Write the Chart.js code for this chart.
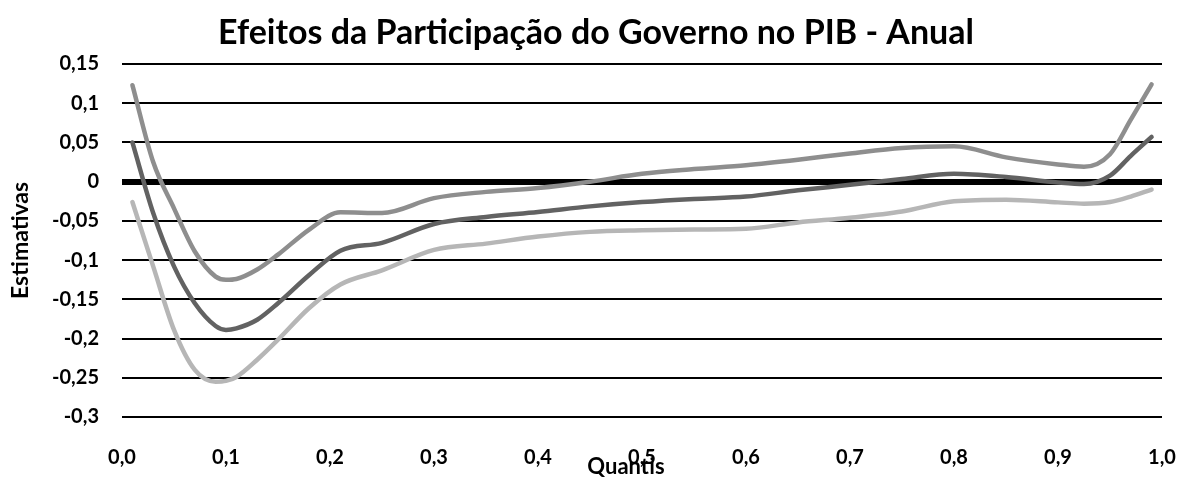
<!DOCTYPE html>
<html>
<head>
<meta charset="utf-8">
<script src="https://cdn.jsdelivr.net/npm/chart.js@4.4.1/dist/chart.umd.min.js"></script>
<style>
  html, body { margin: 0; padding: 0; background: #ffffff; }
  #wrap { width: 1179px; height: 479px; }
</style>
</head>
<body>
<div id="wrap"><canvas id="c" width="1179" height="479"></canvas></div>
<script>
// ---- data ----
const chartTitle = 'Efeitos da Participação do Governo no PIB - Anual';
const xTitle = 'Quantis';
const yTitle = 'Estimativas';

const quantis = [0.01, 0.03, 0.05, 0.07, 0.09, 0.10, 0.11, 0.13, 0.15, 0.18, 0.21, 0.25, 0.30, 0.35, 0.40, 0.45, 0.50, 0.55, 0.60, 0.65, 0.70, 0.75, 0.80, 0.85, 0.90, 0.925, 0.95, 0.97, 0.99];

const upperBound = [0.123, 0.025, -0.034, -0.089, -0.121, -0.125, -0.124, -0.112, -0.093, -0.061, -0.039, -0.040, -0.021, -0.013, -0.008, 0.000, 0.010, 0.016, 0.021, 0.028, 0.036, 0.043, 0.045, 0.031, 0.022, 0.019, 0.035, 0.079, 0.124];
const estimate   = [0.050, -0.040, -0.108, -0.155, -0.184, -0.189, -0.187, -0.176, -0.155, -0.119, -0.088, -0.078, -0.054, -0.045, -0.0387, -0.0315, -0.026, -0.022, -0.019, -0.011, -0.004, 0.0034, 0.010, 0.006, -0.001, -0.003, 0.0077, 0.033, 0.057];
const lowerBound = [-0.026, -0.108, -0.189, -0.240, -0.255, -0.254, -0.249, -0.227, -0.2015, -0.161, -0.131, -0.113, -0.087, -0.079, -0.070, -0.064, -0.062, -0.061, -0.060, -0.052, -0.046, -0.038, -0.025, -0.023, -0.0264, -0.028, -0.026, -0.019, -0.010];

const xTickValues = [0, 0.1, 0.2, 0.3, 0.4, 0.5, 0.6, 0.7, 0.8, 0.9, 1.0];
const yTickValues = [0.15, 0.1, 0.05, 0, -0.05, -0.1, -0.15, -0.2, -0.25, -0.3];

const FONT = 'Lato';

function toPoints(xs, ys) { return xs.map((x, i) => ({ x: x, y: ys[i] })); }
function fmtComma(v, digits) {
  if (digits !== undefined) return v.toFixed(digits).replace('.', ',');
  const r = Number(v.toFixed(2));
  return String(r).replace('.', ',');
}

const textPlugin = {
  id: 'textPlugin',
  afterDraw(chart) {
    const c = chart.ctx;
    c.save();
    c.fillStyle = '#000';
    c.textAlign = 'center';
    c.textBaseline = 'middle';
    c.font = 'bold 34px ' + FONT;
    c.fillText(chartTitle, 596, 33);
    c.font = 'bold 22px ' + FONT;
    c.fillText(xTitle, 626, 467);
    c.restore();
  }
};

const ds = (label, data, color) => ({
  label: label,
  data: toPoints(quantis, data),
  borderColor: color,
  backgroundColor: color,
  borderWidth: 4.5,
  borderCapStyle: 'round',
  borderJoinStyle: 'round',
  pointRadius: 0,
  cubicInterpolationMode: 'monotone',
  fill: false
});

new Chart(document.getElementById('c'), {
  type: 'line',
  data: {
    datasets: [
      ds('Limite superior', upperBound, '#8e8e8e'),
      ds('Estimativa', estimate, '#626262'),
      ds('Limite inferior', lowerBound, '#b6b6b6')
    ]
  },
  plugins: [textPlugin],
  options: {
    responsive: false,
    animation: false,
    devicePixelRatio: 1,
    layout: { padding: { left: 0, right: 17, top: 64, bottom: 0 } },
    plugins: {
      legend: { display: false },
      tooltip: { enabled: false },
      title: { display: false }
    },
    scales: {
      x: {
        type: 'linear',
        min: 0, max: 1,
        afterBuildTicks: (s) => { s.ticks = xTickValues.map(v => ({ value: v })); },
        ticks: {
          callback: (v) => fmtComma(v, 1),
          color: '#000',
          font: { family: FONT, size: 20, weight: 'bold' },
          padding: 29,
          maxRotation: 0,
          autoSkip: false
        },
        grid: { display: false, drawTicks: false },
        border: { display: false },
        afterFit: (s) => { s.height = 62; s.paddingLeft = 0; s.paddingRight = 0; }
      },
      y: {
        type: 'linear',
        min: -0.3, max: 0.15,
        afterBuildTicks: (s) => { s.ticks = yTickValues.slice().reverse().map(v => ({ value: v })); },
        ticks: {
          callback: (v) => fmtComma(v),
          color: '#000',
          font: { family: FONT, size: 20, weight: 'bold' },
          padding: 23
        },
        grid: {
          color: '#000',
          lineWidth: (ctx) => (ctx.tick && Math.abs(ctx.tick.value) < 1e-9) ? 6 : 2,
          drawTicks: false
        },
        border: { display: false },
        title: {
          display: true,
          text: yTitle,
          color: '#000',
          font: { family: FONT, size: 23, weight: 'bold', lineHeight: 1.2 },
          padding: { top: 7, bottom: 0 }
        },
        afterFit: (s) => { s.width = 122; s.paddingTop = 0; s.paddingBottom = 0; }
      }
    }
  }
});
</script>
</body>
</html>
